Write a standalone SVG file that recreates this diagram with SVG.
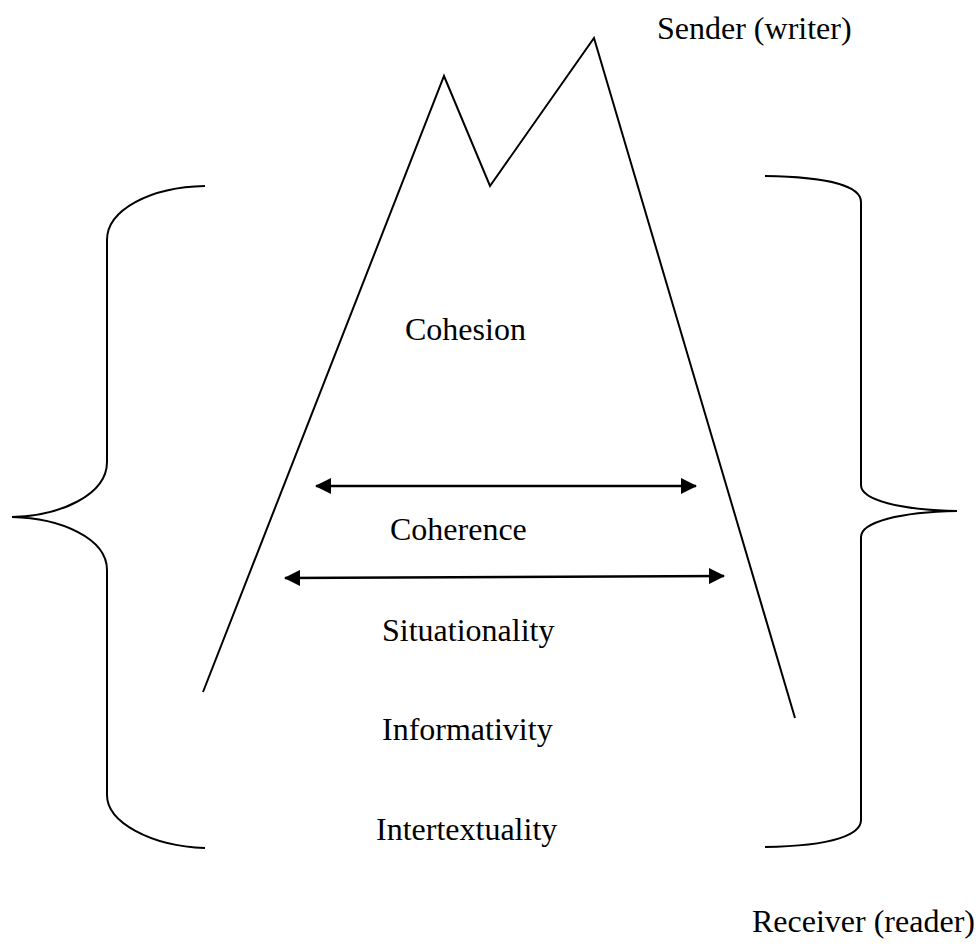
<svg xmlns="http://www.w3.org/2000/svg" width="976" height="947" viewBox="0 0 976 947">
<style>
.t{font-family:"Liberation Serif","Times New Roman",serif;font-size:32px;fill:#000}
.ln{fill:none;stroke:#000;stroke-width:2}
.ar{fill:none;stroke:#000;stroke-width:2.6}
</style>
<defs>
<marker id="ah" viewBox="0 0 16 16" refX="15" refY="8" markerWidth="16" markerHeight="16" markerUnits="userSpaceOnUse" orient="auto-start-reverse">
<path d="M0,0 L16,8 L0,16 Z" fill="#000"/>
</marker>
</defs>
<rect width="976" height="947" fill="#fff"/>
<g id="mountain">
<polyline class="ln" points="203,692 444,76 490,186 594,38 795,718"/>
</g>
<g id="left-brace">
<path class="ln" d="M205,186 C150,187 107,210 107,240 V462 C107,495 60,516 12,517 C60,518 107,538 107,570 V795 C107,822 150,846 205,848"/>
</g>
<g id="right-brace">
<path class="ln" d="M765,176 C835,177 861,188 861,202 V485 C861,500 900,510 957,511 C900,512 861,522 861,537 V820 C861,834 835,846 765,847"/>
</g>
<g id="sender"><text class="t" x="657" y="39">Sender (writer)</text></g>
<g id="cohesion"><text class="t" x="405" y="340">Cohesion</text></g>
<g id="coherence"><text class="t" x="390" y="540">Coherence</text></g>
<g id="situationality"><text class="t" x="382" y="641">Situationality</text></g>
<g id="informativity"><text class="t" x="382" y="740">Informativity</text></g>
<g id="intertextuality"><text class="t" x="376" y="840">Intertextuality</text></g>
<g id="receiver"><text class="t" x="752" y="932">Receiver (reader)</text></g>
<g id="connectors">
<line class="ar" x1="316" y1="486" x2="696" y2="486" marker-start="url(#ah)" marker-end="url(#ah)"/>
<line class="ar" x1="285" y1="578" x2="724" y2="576" marker-start="url(#ah)" marker-end="url(#ah)"/>
</g>
</svg>
